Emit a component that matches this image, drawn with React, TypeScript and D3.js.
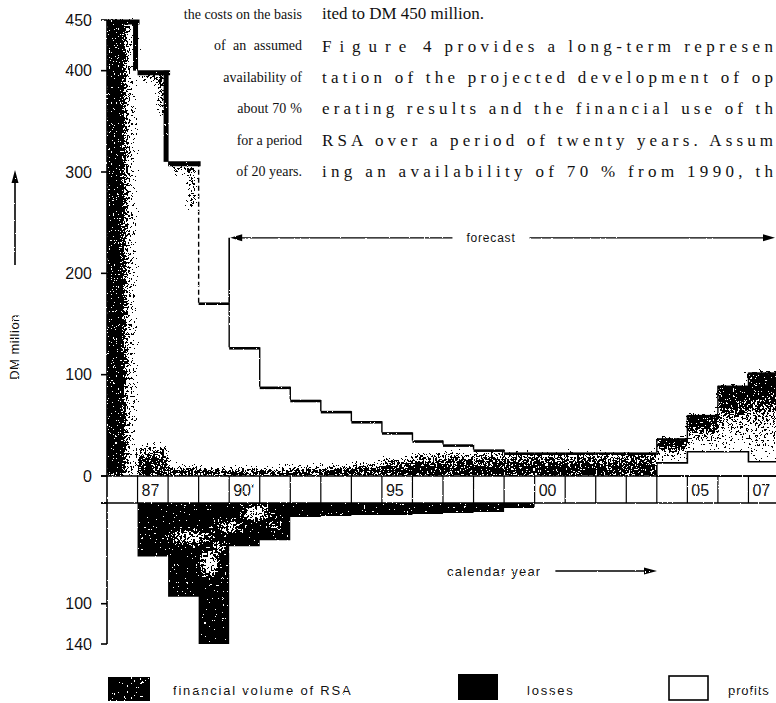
import { useEffect, useRef } from "react";
import * as d3 from "d3";

const W = 776;
const H = 703;

const years = [1986, 1987, 1988, 1989, 1990, 1991, 1992, 1993, 1994, 1995, 1996, 1997, 1998, 1999, 2000, 2001, 2002, 2003, 2004, 2005, 2006, 2007];
// stepped cost line (DM million)
const costs = [450, 400, 310, 171, 127, 88, 75, 64, 54, 43, 35, 31, 26, 23, 23, 23, 23, 23, 37, 60, 89, 102];
// upper edge of the stippled financial volume
const volume = [450, 30, 10, 8, 8, 8, 9, 10, 12, 18, 22, 23, 23, 23, 23, 23, 23, 23, 37, 60, 89, 102];
const losses = [0, 53, 93, 140, 43, 37, 14, 13, 12, 12, 11, 10, 9, 5, 0, 0, 0, 0, 0, 0, 0, 0];
const profits = [0, 0, 0, 0, 0, 0, 0, 0, 0, 0, 0, 0, 0, 0, 0, 0, 0, 0, 13, 24, 24, 14];

const yearLabelYears = [1987, 1990, 1995, 2000, 2005, 2007];
const yearLabelTexts = ["87", "90'", "95", "00", "05", "07"];
const upperTicks = [0, 100, 200, 300, 400, 450];
const lowerTicks = [0, 100, 140];
const forecastFrom = 1990;
const forecastLevel = 235;

const leftColumn = ["the costs on the basis", "of an assumed", "availability of", "about 70 %", "for a period", "of 20 years."];
const rightColumn = [
  "ited to DM 450 million.",
  "Figure| 4 provides a long-term represen",
  "tation of the projected development of op",
  "erating results and the financial use of th",
  "RSA over a period of twenty years. Assum",
  "ing an availability of 70 % from 1990, th",
];

const sans = "'Liberation Sans', Arial, Helvetica, sans-serif";
const serif = "'Liberation Serif', 'Times New Roman', serif";

function addGrain(defs: any, id: string, white: boolean) {
  const f = defs.append("filter").attr("id", id)
    .attr("filterUnits", "userSpaceOnUse")
    .attr("x", 0).attr("y", 0).attr("width", W).attr("height", H)
    .attr("color-interpolation-filters", "sRGB");
  f.append("feGaussianBlur").attr("in", "SourceAlpha").attr("stdDeviation", 2).attr("result", "soft");
  f.append("feColorMatrix").attr("in", "soft").attr("type", "matrix")
    .attr("values", "0 0 0 -1 1 0 0 0 -1 1 0 0 0 -1 1 0 0 0 0 1").attr("result", "tone");
  f.append("feTurbulence").attr("type", "fractalNoise").attr("baseFrequency", 0.45)
    .attr("numOctaves", 2).attr("seed", 4).attr("result", "noise");
  f.append("feColorMatrix").attr("in", "noise").attr("type", "matrix")
    .attr("values", "1 0 0 0 0 1 0 0 0 0 1 0 0 0 0 0 0 0 0 1").attr("result", "grey");
  f.append("feComposite").attr("in", "tone").attr("in2", "grey").attr("operator", "arithmetic")
    .attr("k1", 0).attr("k2", 1).attr("k3", 2.2).attr("k4", -1.1).attr("result", "mix");
  const ct = f.append("feComponentTransfer").attr("in", "mix").attr("result", "bw");
  ["feFuncR", "feFuncG", "feFuncB"].forEach((n) => ct.append(n).attr("type", "discrete").attr("tableValues", "0 1"));
  const c = white ? 1 : 0;
  f.append("feColorMatrix").attr("in", "bw").attr("type", "matrix")
    .attr("values", `0 0 0 0 ${c} 0 0 0 0 ${c} 0 0 0 0 ${c} -1 0 0 0 1`);
}

export default function App() {
  const svgRef = useRef<SVGSVGElement>(null);

  useEffect(() => {
    const svg = d3.select(svgRef.current);
    svg.selectAll("*").remove();

    const x = d3.scaleLinear().domain([1986, 2008]).range([107, 779]);
    const yUp = d3.scaleLinear().domain([0, 450]).range([476, 20]);
    const yDn = d3.scaleLinear().domain([0, 140]).range([503, 644]);
    const axisX = x(1986);

    const defs = svg.append("defs");
    addGrain(defs, "grain", false);
    addGrain(defs, "specks", true);

    const grad = (id: string, horizontal: boolean, stops: [number, number][]) => {
      const g = defs.append("linearGradient").attr("id", id)
        .attr("x1", 0).attr("y1", 0).attr("x2", horizontal ? 1 : 0).attr("y2", horizontal ? 0 : 1);
      stops.forEach(([o, a]) => g.append("stop").attr("offset", o).attr("stop-color", "#000").attr("stop-opacity", a));
    };
    grad("gLeft", true, [[0, 1], [0.52, 1], [0.62, 0.6], [0.8, 0.25], [1, 0.12]]);
    grad("gBase", false, [[0, 0.4], [0.5, 0.72], [1, 1]]);
    grad("gRise", false, [[0, 1], [0.25, 0.9], [0.5, 0.4], [1, 0.08]]);
    const rg = defs.append("radialGradient").attr("id", "gBlob");
    rg.append("stop").attr("offset", 0).attr("stop-color", "#000").attr("stop-opacity", 1);
    rg.append("stop").attr("offset", 0.5).attr("stop-color", "#000").attr("stop-opacity", 0.7);
    rg.append("stop").attr("offset", 1).attr("stop-color", "#000").attr("stop-opacity", 0);

    // stippled financial volume
    defs.append("clipPath").attr("id", "plotUp").append("rect")
      .attr("x", axisX).attr("y", 0).attr("width", W - axisX).attr("height", yUp(0));
    const grain = svg.append("g").attr("clip-path", "url(#plotUp)")
      .append("g").attr("filter", "url(#grain)");

    years.forEach((yr, i) => {
      const x0 = x(yr), x1 = x(yr + 1);
      if (i === 0) {
        grain.append("rect").attr("x", x0 - 3).attr("y", yUp(volume[i]))
          .attr("width", x1 - x0 + 3).attr("height", yUp(0) - yUp(volume[i]))
          .attr("fill", "url(#gLeft)");
      } else if (profits[i] > 0) {
        grain.append("rect").attr("x", x0).attr("y", yUp(volume[i]))
          .attr("width", x1 - x0).attr("height", yUp(profits[i]) - yUp(volume[i]))
          .attr("fill", "url(#gRise)");
      } else {
        grain.append("rect").attr("x", x0).attr("y", yUp(volume[i]))
          .attr("width", x1 - x0).attr("height", yUp(0) - yUp(volume[i]))
          .attr("fill", "url(#gBase)");
      }
      // fuzzy inner rim along the heavy early steps
      if (i > 0 && i < 3) {
        grain.append("line").attr("x1", x(yr) + 4).attr("x2", x(yr + 1) - 4)
          .attr("y1", yUp(costs[i]) + 7).attr("y2", yUp(costs[i]) + 7)
          .attr("stroke", "#000").attr("stroke-width", 6).attr("stroke-opacity", 0.55);
        grain.append("line").attr("x1", x(yr + 1) - 7).attr("x2", x(yr + 1) - 7)
          .attr("y1", yUp(costs[i]) + 4).attr("y2", yUp(Math.max(costs[i + 1], costs[i] - 45)))
          .attr("stroke", "#000").attr("stroke-width", 6).attr("stroke-opacity", 0.55);
      }
    });

    // cost steps
    const steps = svg.append("g").attr("stroke", "#000").attr("fill", "none");
    years.forEach((yr, i) => {
      const thick = i < 3;
      steps.append("line")
        .attr("x1", x(yr)).attr("x2", x(yr + 1) + (thick ? 2 : 0))
        .attr("y1", yUp(costs[i]) + (thick ? 2 : 1)).attr("y2", yUp(costs[i]) + (thick ? 2 : 1))
        .attr("stroke-width", thick ? 5 : 2.6);
      if (i < years.length - 1) {
        steps.append("line")
          .attr("x1", x(yr + 1) - (i < 2 ? 2 : 0)).attr("x2", x(yr + 1) - (i < 2 ? 2 : 0))
          .attr("y1", yUp(costs[i])).attr("y2", yUp(costs[i + 1]))
          .attr("stroke-width", i < 2 ? 5 : 1.4)
          .attr("stroke-dasharray", i === 2 ? "5 3" : null);
      }
    });

    // profits
    const profitPts = years.map((yr, i) => [yr, profits[i]] as [number, number]).filter((d) => d[1] > 0);
    profitPts.push([profitPts[profitPts.length - 1][0] + 1, profitPts[profitPts.length - 1][1]]);
    const profitArea = d3.area<[number, number]>()
      .x((d) => x(d[0])).y0(yUp(0)).y1((d) => yUp(d[1])).curve(d3.curveStepAfter);
    svg.append("path").attr("d", profitArea(profitPts))
      .attr("fill", "#fff").attr("stroke", "#000").attr("stroke-width", 1.6);

    // losses
    const lossPts = years.map((yr, i) => [yr, losses[i]] as [number, number]).filter((d) => d[1] > 0);
    lossPts.push([lossPts[lossPts.length - 1][0] + 1, lossPts[lossPts.length - 1][1]]);
    const lossArea = d3.area<[number, number]>()
      .x((d) => x(d[0])).y0(yDn(0)).y1((d) => yDn(d[1])).curve(d3.curveStepAfter);
    svg.append("path").attr("d", lossArea(lossPts)).attr("fill", "#000");
    defs.append("clipPath").attr("id", "lossClip").append("path").attr("d", lossArea(lossPts));

    const blobs = [
      { year: 1989.35, value: 60, rx: 12, ry: 18, o: 0.95 },
      { year: 1988.7, value: 34, rx: 30, ry: 11, o: 0.7 },
      { year: 1990.0, value: 24, rx: 22, ry: 9, o: 0.65 },
      { year: 1990.9, value: 10, rx: 18, ry: 10, o: 0.9 },
      { year: 1991.5, value: 22, rx: 9, ry: 8, o: 0.55 },
      { year: 1989.7, value: 44, rx: 10, ry: 9, o: 0.6 },
    ];
    const speck = svg.append("g").attr("clip-path", "url(#lossClip)")
      .append("g").attr("filter", "url(#specks)");
    blobs.forEach((b) => {
      speck.append("ellipse").attr("cx", x(b.year)).attr("cy", yDn(b.value))
        .attr("rx", b.rx).attr("ry", b.ry).attr("fill", "url(#gBlob)").attr("opacity", b.o);
    });

    // year band
    const bandTop = yUp(0), bandBottom = yDn(0);
    const frame = svg.append("g").attr("stroke", "#000");
    frame.append("line").attr("x1", axisX - 6).attr("x2", W).attr("y1", bandTop).attr("y2", bandTop).attr("stroke-width", 1.6);
    frame.append("line").attr("x1", axisX - 6).attr("x2", W).attr("y1", bandBottom).attr("y2", bandBottom).attr("stroke-width", 1.4);
    years.slice(1).forEach((yr) => {
      frame.append("line").attr("x1", x(yr)).attr("x2", x(yr)).attr("y1", bandTop).attr("y2", bandBottom).attr("stroke-width", 1.2);
    });
    frame.append("line").attr("x1", axisX).attr("x2", axisX).attr("y1", yUp(450)).attr("y2", yDn(140)).attr("stroke-width", 1.6);
    upperTicks.forEach((t) => {
      frame.append("line").attr("x1", axisX - 6).attr("x2", axisX).attr("y1", yUp(t)).attr("y2", yUp(t)).attr("stroke-width", 1.6);
    });
    lowerTicks.forEach((t) => {
      frame.append("line").attr("x1", axisX - 6).attr("x2", axisX).attr("y1", yDn(t)).attr("y2", yDn(t)).attr("stroke-width", 1.6);
    });

    const labels = svg.append("g").attr("font-family", sans).attr("fill", "#111");
    upperTicks.forEach((t) => {
      labels.append("text").attr("x", axisX - 15).attr("y", yUp(t)).attr("dy", "0.36em")
        .attr("text-anchor", "end").attr("font-size", 16).text(t);
    });
    lowerTicks.filter((t) => t > 0).forEach((t) => {
      labels.append("text").attr("x", axisX - 15).attr("y", yDn(t)).attr("dy", "0.36em")
        .attr("text-anchor", "end").attr("font-size", 16).text(t);
    });
    yearLabelYears.forEach((yr, i) => {
      labels.append("text").attr("x", x(yr) + 4).attr("y", bandBottom - 7)
        .attr("font-size", 16).text(yearLabelTexts[i]);
    });

    // y title and arrow
    labels.append("text").attr("transform", `translate(19,347) rotate(-90)`)
      .attr("text-anchor", "middle").attr("font-size", 13).attr("letter-spacing", 0.5).text("DM million");
    svg.append("line").attr("x1", 15).attr("x2", 15).attr("y1", 265).attr("y2", 180)
      .attr("stroke", "#000").attr("stroke-width", 1.6);
    svg.append("path").attr("d", "M15,170 L11.5,183 L18.5,183 Z").attr("fill", "#000");

    // forecast marker
    const fx = x(forecastFrom), fy = yUp(forecastLevel);
    svg.append("line").attr("x1", fx).attr("x2", fx).attr("y1", fy).attr("y2", yUp(costs[years.indexOf(forecastFrom - 1)]))
      .attr("stroke", "#000").attr("stroke-width", 1.6);
    const ft = labels.append("text").attr("x", 491).attr("y", fy).attr("dy", "0.36em")
      .attr("text-anchor", "middle").attr("font-size", 12).attr("letter-spacing", 0.8).text("forecast");
    const fw = (ft.node() as SVGTextElement).getComputedTextLength();
    svg.append("line").attr("x1", fx + 8).attr("x2", 491 - fw / 2 - 14).attr("y1", fy).attr("y2", fy)
      .attr("stroke", "#000").attr("stroke-width", 1.3);
    svg.append("line").attr("x1", 491 + fw / 2 + 14).attr("x2", W - 8).attr("y1", fy).attr("y2", fy)
      .attr("stroke", "#000").attr("stroke-width", 1.3);
    svg.append("path").attr("d", `M${fx + 1},${fy} L${fx + 13},${fy - 3.5} L${fx + 13},${fy + 3.5} Z`).attr("fill", "#000");
    svg.append("path").attr("d", `M${W - 1},${fy} L${W - 13},${fy - 3.5} L${W - 13},${fy + 3.5} Z`).attr("fill", "#000");

    // calendar year
    const ct = labels.append("text").attr("x", 447).attr("y", 576)
      .attr("font-size", 13).attr("letter-spacing", 1.2).text("calendar year");
    const cw = (ct.node() as SVGTextElement).getComputedTextLength();
    svg.append("line").attr("x1", 447 + cw + 14).attr("x2", 646).attr("y1", 571).attr("y2", 571)
      .attr("stroke", "#000").attr("stroke-width", 1.4);
    svg.append("path").attr("d", "M657,571 L644,567.5 L644,574.5 Z").attr("fill", "#000");

    // legend
    const lg = svg.append("g");
    lg.append("rect").attr("x", 108).attr("y", 677).attr("width", 42).attr("height", 24).attr("fill", "#000");
    lg.append("g").attr("filter", "url(#specks)").append("ellipse")
      .attr("cx", 143).attr("cy", 683).attr("rx", 5).attr("ry", 4).attr("fill", "url(#gBlob)").attr("opacity", 0.7);
    lg.append("rect").attr("x", 458).attr("y", 674).attr("width", 40).attr("height", 26).attr("fill", "#000");
    lg.append("rect").attr("x", 669).attr("y", 676).attr("width", 39).attr("height", 24)
      .attr("fill", "#fff").attr("stroke", "#000").attr("stroke-width", 1.6);
    [["financial volume of RSA", 173, 1.8], ["losses", 527, 1.8], ["profits", 728, 0.9]].forEach(([t, px, ls]) => {
      labels.append("text").attr("x", px as number).attr("y", 695)
        .attr("font-size", 13).attr("letter-spacing", ls as number).text(t as string);
    });

    // surrounding page text
    const page = svg.append("g").attr("font-family", serif).attr("fill", "#111");
    const leftY = [19, 50, 82, 113, 145, 176];
    const leftEdge = [187, 214, 234, 250, 266, 267];
    const right = 302;
    const leftSize = 14;
    leftColumn.forEach((line, i) => {
      const words = line.split(" ");
      const justify = i >= 1 && i <= 3;
      if (!justify) {
        page.append("text").attr("x", right).attr("y", leftY[i]).attr("font-size", leftSize)
          .attr("text-anchor", "end").text(line);
        return;
      }
      const nodes = words.map((w) => page.append("text").attr("y", leftY[i]).attr("font-size", leftSize).text(w));
      const widths = nodes.map((n) => (n.node() as SVGTextElement).getComputedTextLength());
      const total = d3.sum(widths);
      const gap = Math.max(4, (right - leftEdge[i] - total) / (words.length - 1));
      let cx = right - total - gap * (words.length - 1);
      nodes.forEach((n, k) => { n.attr("x", cx); cx += widths[k] + gap; });
    });
    const rightY = [19, 52, 83, 114, 146, 177];
    rightColumn.forEach((line, i) => {
      const t = page.append("text").attr("x", 322).attr("y", rightY[i]).attr("font-size", 17);
      if (line.includes("|")) {
        const [a, b] = line.split("|");
        t.append("tspan").attr("letter-spacing", 3.5).text(a);
        t.append("tspan").text(b);
      } else {
        t.text(line);
      }
      if (i > 0) {
        t.attr("textLength", 451).attr("lengthAdjust", "spacing");
      }
    });
  }, []);

  return (
    <svg
      ref={svgRef}
      width={W}
      height={H}
      viewBox={`0 0 ${W} ${H}`}
      style={{ position: "absolute", left: 0, top: 0, background: "#fff", display: "block" }}
    />
  );
}
